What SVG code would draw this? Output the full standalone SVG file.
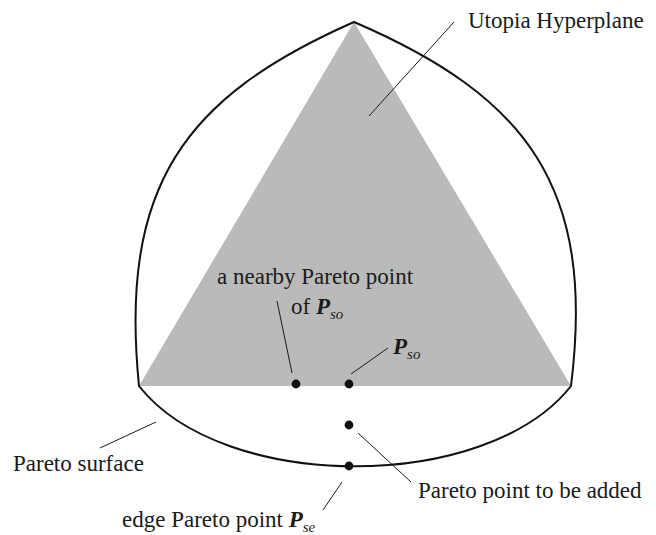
<svg xmlns="http://www.w3.org/2000/svg" width="656" height="535" viewBox="0 0 656 535">
<style>
.t{font-family:"Liberation Serif","Times New Roman",serif;font-size:23px;fill:#1a1a1a}
.b{font-weight:bold;font-style:italic}
.s{font-style:italic;font-size:15px}
.ld{stroke:#1a1a1a;stroke-width:1;fill:none}
.cv{stroke:#111;stroke-width:2;fill:none;stroke-linejoin:miter}
.dot{fill:#111}
</style>
<rect width="656" height="535" fill="#fff"/>
<g id="utopia-hyperplane">
<polygon points="354,22 139,386 571,386" fill="#b9bab9"/>
</g>
<g id="pareto-surface">
<path class="cv" d="M354,22 C184,97 119,186 139,386 C223,493 487,493 571,386 C596,186 526,96 354,22 Z"/>
</g>
<g id="points">
<circle class="dot" cx="296" cy="384" r="4.4"/>
<circle class="dot" cx="349" cy="384" r="4.4"/>
<circle class="dot" cx="349" cy="425" r="4.4"/>
<circle class="dot" cx="349" cy="466" r="4.4"/>
</g>
<g id="connectors">
<line class="ld" x1="369" y1="116" x2="454" y2="22"/>
<line class="ld" x1="277" y1="301" x2="292" y2="373"/>
<line class="ld" x1="388" y1="348" x2="351" y2="374"/>
<line class="ld" x1="156" y1="422" x2="100" y2="448"/>
<line class="ld" x1="358" y1="433" x2="411" y2="482"/>
<line class="ld" x1="342" y1="482" x2="323" y2="510"/>
</g>
<g id="labels">
<text class="t" x="468" y="28">Utopia Hyperplane</text>
<text class="t" x="217" y="284">a nearby Pareto point</text>
<text class="t" x="291" y="314">of <tspan class="b">P</tspan><tspan class="s" dy="5">so</tspan></text>
<text class="t" x="393" y="354"><tspan class="b">P</tspan><tspan class="s" dy="5">so</tspan></text>
<text class="t" x="13" y="471">Pareto surface</text>
<text class="t" x="418" y="498">Pareto point to be added</text>
<text class="t" x="122" y="527">edge Pareto point <tspan class="b">P</tspan><tspan class="s" dy="5">se</tspan></text>
</g>
</svg>
